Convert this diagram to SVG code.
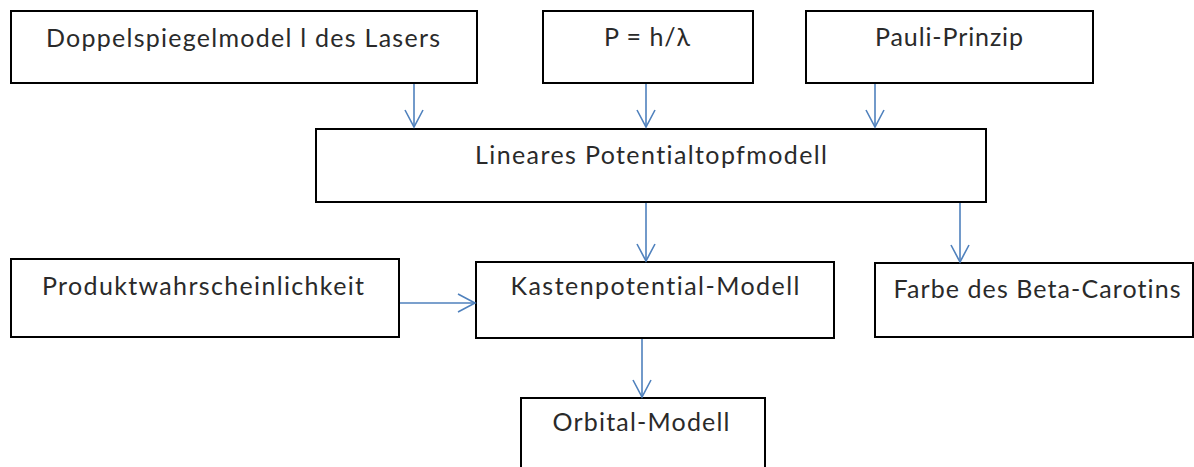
<svg xmlns="http://www.w3.org/2000/svg" width="1194" height="467" viewBox="0 0 1194 467">
<defs>
<style>
.box{fill:#fff;stroke:#000;stroke-width:2}
.lbl{font-family:Lato,"Open Sans","Liberation Sans",sans-serif;font-size:25px;fill:#2a2a2a;text-anchor:middle;font-variant-ligatures:none;font-feature-settings:"liga" 0}
.conn{stroke:#4f81bd;stroke-width:1.6;fill:none}
</style>
<marker id="arr" viewBox="0 0 20 20" refX="18" refY="10" markerWidth="20" markerHeight="20" markerUnits="userSpaceOnUse" orient="auto">
<path d="M1,1 L18,10 L1,19" fill="none" stroke="#4f81bd" stroke-width="1.6"/>
</marker>
</defs>
<rect width="1194" height="467" fill="#fff"/>
<g id="n-doppelspiegel">
<rect class="box" x="11" y="11" width="466" height="72"/>
<text class="lbl" x="243" y="47" textLength="394" lengthAdjust="spacing">Doppelspiegelmodel l des Lasers</text>
</g>
<g id="n-phlambda">
<rect class="box" x="543" y="11" width="210" height="72"/>
<text class="lbl" x="647" y="46" textLength="86" lengthAdjust="spacing">P = h/λ</text>
</g>
<g id="n-pauli">
<rect class="box" x="806" y="11" width="287" height="72"/>
<text class="lbl" x="949" y="46" textLength="148" lengthAdjust="spacing">Pauli-Prinzip</text>
</g>
<g id="n-lineares">
<rect class="box" x="316" y="129" width="670" height="73"/>
<text class="lbl" x="651" y="164" textLength="352" lengthAdjust="spacing">Lineares Potentialtopfmodell</text>
</g>
<g id="n-produkt">
<rect class="box" x="11" y="259" width="388" height="78"/>
<text class="lbl" x="203" y="295" textLength="322" lengthAdjust="spacing">Produktwahrscheinlichkeit</text>
</g>
<g id="n-kasten">
<rect class="box" x="476" y="262" width="358" height="76"/>
<text class="lbl" x="655" y="295" textLength="289" lengthAdjust="spacing">Kastenpotential-Modell</text>
</g>
<g id="n-farbe">
<rect class="box" x="875" y="263" width="318" height="74"/>
<text class="lbl" x="1037" y="298" textLength="287" lengthAdjust="spacing">Farbe des Beta-Carotins</text>
</g>
<g id="n-orbital">
<rect class="box" x="521" y="398" width="244" height="80"/>
<text class="lbl" x="641" y="431" textLength="177" lengthAdjust="spacing">Orbital-Modell</text>
</g>
<g id="connectors">
<line class="conn" x1="414" y1="84" x2="414" y2="127" marker-end="url(#arr)"/>
<line class="conn" x1="646" y1="84" x2="646" y2="127" marker-end="url(#arr)"/>
<line class="conn" x1="875" y1="84" x2="875" y2="127" marker-end="url(#arr)"/>
<line class="conn" x1="646" y1="203" x2="646" y2="261" marker-end="url(#arr)"/>
<line class="conn" x1="960" y1="203" x2="960" y2="262" marker-end="url(#arr)"/>
<line class="conn" x1="400" y1="303" x2="475" y2="303" marker-end="url(#arr)"/>
<line class="conn" x1="642" y1="339" x2="642" y2="397" marker-end="url(#arr)"/>
</g>
</svg>
